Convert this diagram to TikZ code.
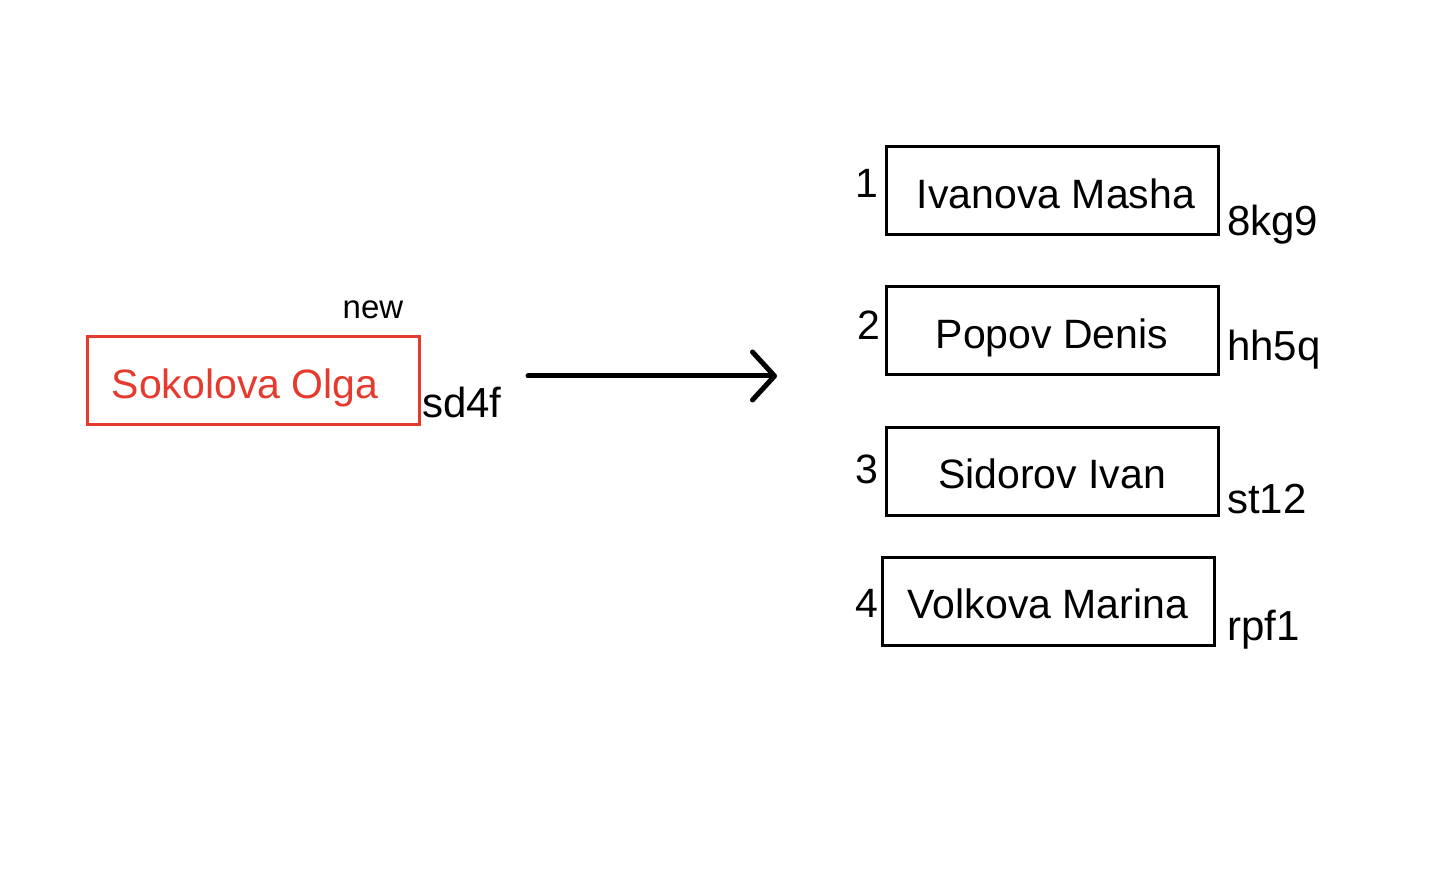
\documentclass[tikz,border=0pt]{standalone}
\usepackage{fontspec}
\setmainfont{Liberation Sans}
\usetikzlibrary{arrows.meta}
\definecolor{newred}{RGB}{231,58,47}
\begin{document}
\begin{tikzpicture}[x=0.5pt, y=-0.5pt, inner sep=0pt, outer sep=0pt,
  namebox/.style={draw=black, line width=1.5pt, minimum width=166pt, minimum height=44pt, text height=17.5pt, text depth=0pt, font=\fontsize{20.5}{24}\selectfont},
  idlabel/.style={anchor=base west, font=\fontsize{21}{25}\selectfont},
  numlabel/.style={anchor=base east, font=\fontsize{20.5}{24}\selectfont}]
\useasboundingbox[fill=white] (0,0) rectangle (1434,870);
% new entry
\node[namebox, draw=newred, text=newred] (olga) at (253,381) {Sokolova Olga\hspace*{8pt}};
\node[anchor=base, font=\fontsize{16.5}{19}\selectfont] (newlbl) at (373,319) {new};
\node[idlabel] (olgaid) at (422,418) {sd4f};
% arrow
\coordinate (arrstart) at (528,376);
\coordinate (arrend) at (777,376);
\draw[line width=2.5pt, line cap=round, -{Straight Barb[length=11pt, width=24pt, round]}] (arrstart) -- (arrend);
% list
\node[namebox] (masha) at (1052,191) {\hspace*{4pt}Ivanova Masha};
\node[namebox] (denis) at (1052,331) {Popov Denis};
\node[namebox] (ivan) at (1052,471.5) {Sidorov Ivan};
\node[namebox] (marina) at (1048,601.5) {Volkova Marina};
\node[numlabel] (n1) at (878,198) {1};
\node[numlabel] (n2) at (880,340) {2};
\node[numlabel] (n3) at (878,484) {3};
\node[numlabel] (n4) at (878,618) {4};
\node[idlabel] (mashaid) at (1227,236) {8kg9};
\node[idlabel] (denisid) at (1227,361) {hh5q};
\node[idlabel] (ivanid) at (1227,514) {st12};
\node[idlabel] (marinaid) at (1227,640) {rpf1};
\end{tikzpicture}
\end{document}
